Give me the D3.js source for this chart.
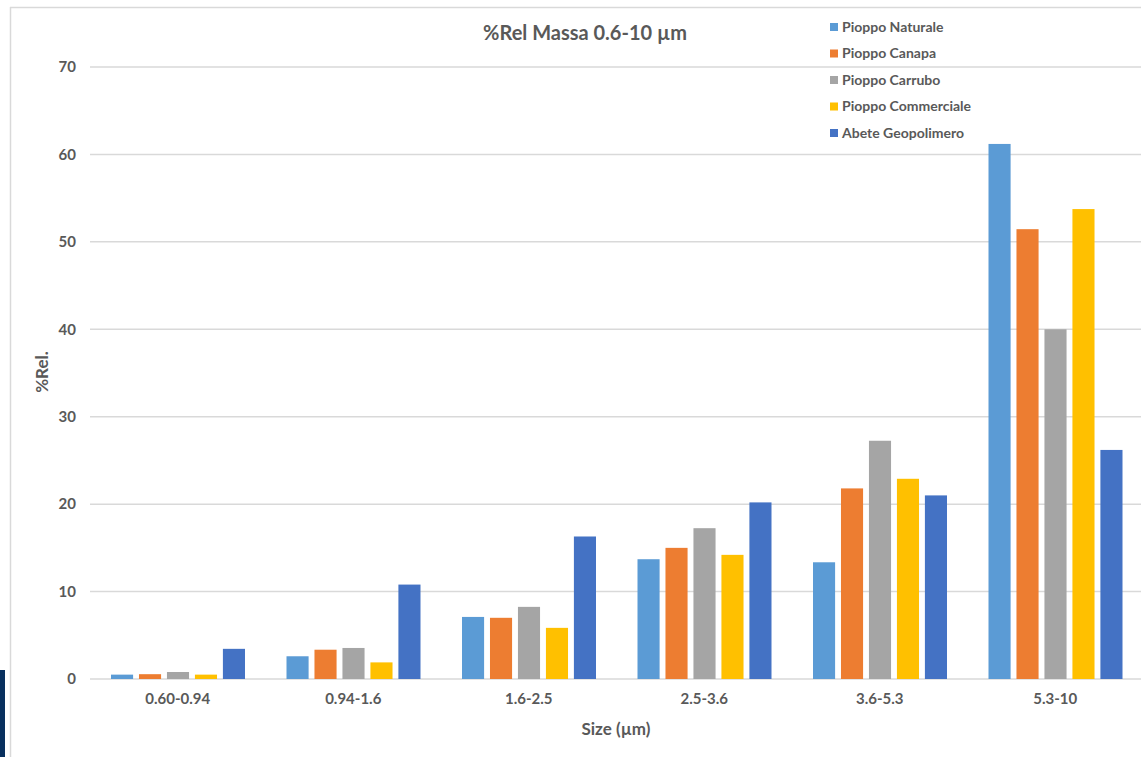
<!DOCTYPE html>
<html>
<head>
<meta charset="utf-8">
<script src="https://cdn.jsdelivr.net/npm/d3@7"></script>
<style>
  html, body { margin: 0; padding: 0; background: #fff; }
  svg { display: block; }
  text { font-family: Lato, "Open Sans", sans-serif; font-weight: bold; fill: #595959; }
</style>
</head>
<body>
<svg id="chart" width="1141" height="757"></svg>
<script>
// Size classes (µm)
const categories = ["0.60-0.94", "0.94-1.6", "1.6-2.5", "2.5-3.6", "3.6-5.3", "5.3-10"];

// Series names and relative mass (%) per size class
const seriesNames = ["Pioppo Naturale", "Pioppo Canapa", "Pioppo Carrubo", "Pioppo Commerciale", "Abete Geopolimero"];
const pioppoNaturale    = [0.5, 2.6, 7.1, 13.7, 13.35, 61.2];
const pioppoCanapa      = [0.55, 3.35, 7.0, 15.0, 21.8, 51.45];
const pioppoCarrubo     = [0.8, 3.55, 8.25, 17.25, 27.25, 40.0];
const pioppoCommerciale = [0.5, 1.9, 5.85, 14.2, 22.9, 53.75];
const abeteGeopolimero  = [3.45, 10.8, 16.3, 20.2, 21.0, 26.2];
const seriesValues = [pioppoNaturale, pioppoCanapa, pioppoCarrubo, pioppoCommerciale, abeteGeopolimero];

const yTicks = [0, 10, 20, 30, 40, 50, 60, 70];
const colors = ["#5B9BD5", "#ED7D31", "#A5A5A5", "#FFC000", "#4472C4"];

const svg = d3.select("#chart");

// Chart frame
svg.append("line").attr("x1", 10).attr("x2", 1141).attr("y1", 7.5).attr("y2", 7.5)
  .attr("stroke", "#d9d9d9").attr("stroke-width", 1.5);
svg.append("line").attr("x1", 10.5).attr("x2", 10.5).attr("y1", 7).attr("y2", 757)
  .attr("stroke", "#d9d9d9").attr("stroke-width", 1.5);
svg.append("rect").attr("x", 0).attr("y", 670).attr("width", 5).attr("height", 87).attr("fill", "#08305E");

const x0 = d3.scaleBand().domain(categories).range([90, 1143]).paddingInner(0).paddingOuter(0);
const x1 = d3.scaleBand().domain(seriesNames).range([21, 155]).paddingInner(0.21).paddingOuter(0);
const y = d3.scaleLinear().domain([0, 70]).range([679, 67]);

// Gridlines
svg.append("g").selectAll("line").data(yTicks).join("line")
  .attr("x1", 90).attr("x2", 1141)
  .attr("y1", d => y(d)).attr("y2", d => y(d))
  .attr("stroke", "#d9d9d9").attr("stroke-width", 1.5);

// Y axis tick labels
const yAxis = d3.axisLeft(y).tickValues(yTicks).tickSize(0).tickPadding(0);
const gy = svg.append("g").attr("transform", "translate(76,0)").call(yAxis);
gy.select(".domain").remove();
gy.selectAll("text").attr("font-size", 15).attr("fill", "#595959")
  .style("font-family", "Lato, 'Open Sans', sans-serif").style("font-weight", "bold");

// Bars
const groups = svg.append("g").selectAll("g").data(categories).join("g")
  .attr("transform", d => `translate(${x0(d)},0)`);
groups.selectAll("rect")
  .data((c, ci) => seriesNames.map((s, si) => ({ s, si, v: seriesValues[si][ci] })))
  .join("rect")
  .attr("x", d => x1(d.s))
  .attr("width", x1.bandwidth())
  .attr("y", d => y(d.v))
  .attr("height", d => y(0) - y(d.v))
  .attr("fill", d => colors[d.si]);

// X axis labels
const xAxis = d3.axisBottom(x0).tickSize(0).tickPadding(0);
const gx = svg.append("g").attr("transform", "translate(0,693)").call(xAxis);
gx.select(".domain").remove();
gx.selectAll("text").attr("font-size", 15).attr("fill", "#595959").attr("dy", "0.71em")
  .style("font-family", "Lato, 'Open Sans', sans-serif").style("font-weight", "bold");

// Titles
svg.append("text").attr("x", 585).attr("y", 40).attr("text-anchor", "middle")
  .attr("font-size", 20).text("%Rel Massa 0.6-10 µm");
svg.append("text").attr("x", 616).attr("y", 735).attr("text-anchor", "middle")
  .attr("font-size", 17).text("Size (µm)");
svg.append("text").attr("transform", "translate(48,372) rotate(-90)").attr("text-anchor", "middle")
  .attr("font-size", 17).text("%Rel.");

// Legend
const legend = svg.append("g").selectAll("g").data(seriesNames).join("g")
  .attr("transform", (d, i) => `translate(830,${27 + i * 26.5})`);
legend.append("rect").attr("x", 0).attr("y", -4).attr("width", 8).attr("height", 8)
  .attr("fill", (d, i) => colors[i]);
legend.append("text").attr("x", 12).attr("y", 0).attr("dy", "0.35em")
  .attr("font-size", 14).text(d => d);
</script>
</body>
</html>
